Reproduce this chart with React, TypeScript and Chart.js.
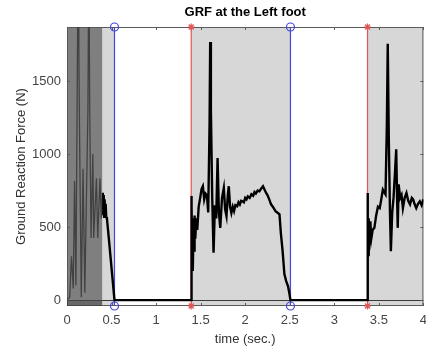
import React, { useEffect, useRef } from "react";
import { Chart, registerables } from "chart.js";

Chart.register(...registerables);

const timeTicks = [0, 0.5, 1, 1.5, 2, 2.5, 3, 3.5, 4];
const forceTicks = [0, 500, 1000, 1500];
const xMin = 0;
const xMax = 4;
const yMin = -40;
const yMax = 1870;

const darkStart = 0;
const darkEnd = 0.395;
const stanceStart = [0.395, 1.394, 3.373];
const stanceEnd = [0.533, 2.508, 4.0];
const toeOffTimes = [0.533, 2.508];
const heelStrikeTimes = [1.394, 3.373];

const traceTime = [
  0.0, 0.03, 0.05, 0.07, 0.085, 0.1, 0.125, 0.133, 0.14, 0.16, 0.18, 0.2, 0.235, 0.245, 0.255, 0.27,
  0.29, 0.3, 0.33, 0.345, 0.37, 0.385, 0.395, 0.402, 0.407, 0.412, 0.417, 0.422, 0.428, 0.434, 0.44, 0.448,
  0.47, 0.5, 0.533,
  1.394, 1.394, 1.398, 1.402, 1.406, 1.41, 1.414, 1.42, 1.426, 1.432, 1.44, 1.45, 1.462, 1.478, 1.495, 1.51,
  1.525, 1.54, 1.555, 1.57, 1.585, 1.6, 1.607, 1.615, 1.63, 1.645, 1.66, 1.675, 1.69, 1.705, 1.72, 1.74, 1.76,
  1.775, 1.79, 1.805, 1.816, 1.83, 1.845, 1.86, 1.875, 1.89, 1.91, 1.925, 1.94, 1.955, 1.97, 1.985, 2.0, 2.015,
  2.03, 2.05, 2.07, 2.09, 2.105, 2.12, 2.14, 2.16, 2.18, 2.2, 2.215, 2.235, 2.25, 2.27, 2.29, 2.31, 2.34, 2.36,
  2.385, 2.4, 2.42, 2.44, 2.46, 2.48, 2.495, 2.508,
  3.373, 3.373, 3.378, 3.382, 3.386, 3.392, 3.398, 3.405, 3.415, 3.43, 3.45, 3.47, 3.49, 3.51, 3.53, 3.545,
  3.56, 3.575, 3.59, 3.6, 3.612, 3.625, 3.635, 3.65, 3.665, 3.68, 3.695, 3.705, 3.712, 3.722, 3.74, 3.755,
  3.77, 3.79, 3.81, 3.83, 3.85, 3.87, 3.885, 3.9, 3.92, 3.94, 3.96, 3.98, 4.0,
];

const traceForce = [
  0, 20, 300, 80, 815, 100, 2400, 1690, 1200, 20, 900, 50, 1310, 2400, 1300, 425,
  1000, 425, 835, 425, 835, 560, 700, 735, 590, 720, 570, 690, 600, 660, 570, 560,
  420, 220, 0,
  0, 713, 450, 640, 300, 560, 200, 520, 340, 580, 420, 560, 480, 640, 700, 760,
  780, 690, 730, 720, 600, 1200, 1767, 1300, 700, 324, 650, 560, 973, 600, 495, 700, 768,
  620, 575, 720, 780, 640, 597, 640, 610, 650, 643, 670, 655, 680, 677, 670, 700, 690,
  710, 700, 725, 715, 740, 730, 750, 745, 765, 780, 760, 734, 720, 690, 656, 640, 609, 600,
  588, 460, 335, 178, 130, 96, 50, 0,
  0, 734, 400, 560, 300, 520, 380, 540, 420, 480, 495, 580, 640, 630, 700, 757,
  740, 725, 1200, 1756, 1100, 600, 335, 600, 700, 860, 1033, 700, 495, 793, 700, 720,
  630, 700, 734, 680, 656, 700, 690, 660, 630, 660, 677, 650, 690,
];

const FONT = "'Liberation Sans', Arial, Helvetica, sans-serif";

const phasePlugin = {
  id: "phases",
  beforeDatasetsDraw(chart: any) {
    const { ctx, chartArea, scales } = chart;
    const xs = scales.x;
    const ys = scales.y;
    ctx.save();
    ctx.fillStyle = "#d7d7d7";
    for (let i = 0; i < stanceStart.length; i++) {
      const a = xs.getPixelForValue(stanceStart[i]);
      const b = xs.getPixelForValue(stanceEnd[i]);
      ctx.fillRect(a, chartArea.top, b - a, chartArea.bottom - chartArea.top);
    }
    const y0 = Math.round(ys.getPixelForValue(0)) + 0.5;
    ctx.strokeStyle = "#3a3a3a";
    ctx.lineWidth = 1;
    ctx.beginPath();
    ctx.moveTo(chartArea.left, y0);
    ctx.lineTo(chartArea.right, y0);
    ctx.stroke();
    ctx.strokeStyle = "#5a5a5a";
    ctx.strokeRect(chartArea.left + 0.5, chartArea.top + 0.5, chartArea.right - chartArea.left - 1, chartArea.bottom - chartArea.top - 1);
    ctx.beginPath();
    for (const t of timeTicks) {
      const px = Math.round(xs.getPixelForValue(t)) + 0.5;
      ctx.moveTo(px, chartArea.bottom);
      ctx.lineTo(px, chartArea.bottom - 3);
      ctx.moveTo(px, chartArea.top);
      ctx.lineTo(px, chartArea.top + 3);
    }
    for (const v of forceTicks) {
      const py = Math.round(ys.getPixelForValue(v)) + 0.5;
      ctx.moveTo(chartArea.left, py);
      ctx.lineTo(chartArea.left + 3, py);
      ctx.moveTo(chartArea.right, py);
      ctx.lineTo(chartArea.right - 3, py);
    }
    ctx.stroke();
    ctx.restore();
  },
  afterDatasetsDraw(chart: any) {
    const { ctx, chartArea, scales } = chart;
    const xs = scales.x;
    const ys = scales.y;
    ctx.save();
    const a = xs.getPixelForValue(darkStart);
    const b = xs.getPixelForValue(darkEnd);
    ctx.fillStyle = "rgba(87,87,87,0.76)";
    ctx.fillRect(a, chartArea.top, b - a, chartArea.bottom - chartArea.top);
    const y0 = ys.getPixelForValue(0);
    ctx.fillStyle = "rgba(0,0,0,0.18)";
    ctx.fillRect(a, y0, b - a, chartArea.bottom - y0);
    ctx.restore();
  },
};

function eventDataset(t: number, color: string, style: string, radius: number) {
  return {
    data: [
      { x: t, y: yMin },
      { x: t, y: yMax },
    ],
    borderColor: color,
    borderWidth: 1.2,
    pointStyle: style,
    pointRadius: radius,
    pointBorderColor: color,
    pointBackgroundColor: "rgba(0,0,0,0)",
    pointBorderWidth: 1.2,
    clip: false,
  };
}

export default function App() {
  const ref = useRef<HTMLCanvasElement>(null);
  useEffect(() => {
    if (!ref.current) return;
    const trace = traceTime.map((t, i) => ({ x: t, y: traceForce[i] }));
    const datasets: any[] = [
      {
        data: trace,
        borderColor: "#000",
        borderWidth: 2.4,
        pointRadius: 0,
        segment: {
          borderWidth: (c: any) => (c.p0.parsed.x < darkEnd - 0.001 ? 1.3 : 2.4),
        },
      },
      ...toeOffTimes.map((t) => eventDataset(t, "#4545dd", "circle", 4)),
      ...heelStrikeTimes.map((t) => eventDataset(t, "#e05555", "star", 3.5)),
    ];
    const chart = new Chart(ref.current, {
      type: "line",
      data: { datasets },
      plugins: [phasePlugin],
      options: {
        animation: false,
        responsive: false,
        layout: { padding: { left: 0, right: 0, top: 0, bottom: 0 } },
        plugins: {
          legend: { display: false },
          tooltip: { enabled: false },
          title: {
            display: true,
            fullSize: false,
            text: "GRF at the Left foot",
            color: "#000",
            font: { family: FONT, size: 13, weight: "bold" },
            padding: { top: 5, bottom: 6.4 },
          },
        },
        scales: {
          x: {
            type: "linear",
            min: xMin,
            max: xMax,
            afterFit: (s: any) => {
              s.height = 40;
            },
            afterBuildTicks: (s: any) => {
              s.ticks = timeTicks.map((v) => ({ value: v }));
            },
            grid: { display: false, drawTicks: false },
            border: { display: false },
            ticks: {
              color: "#444",
              font: { family: FONT, size: 13 },
              padding: 7,
              maxRotation: 0,
              autoSkip: false,
              callback: (v: any) => String(v),
            },
            title: {
              display: true,
              text: "time (sec.)",
              color: "#333",
              font: { family: FONT, size: 13 },
              padding: { top: 0, bottom: -1 },
            },
          },
          y: {
            type: "linear",
            min: yMin,
            max: yMax,
            afterFit: (s: any) => {
              s.width = 67;
            },
            afterBuildTicks: (s: any) => {
              s.ticks = forceTicks.map((v) => ({ value: v }));
            },
            grid: { display: false, drawTicks: false },
            border: { display: false },
            ticks: {
              color: "#444",
              font: { family: FONT, size: 13 },
              padding: 6,
              autoSkip: false,
              callback: (v: any) => String(v),
            },
            title: {
              display: true,
              text: "Ground Reaction Force (N)",
              color: "#333",
              font: { family: FONT, size: 13 },
              padding: { top: 14, bottom: 0 },
            },
          },
        },
      } as any,
    });
    return () => chart.destroy();
  }, []);
  return (
    <div style={{ position: "fixed", left: 0, top: 0, width: 426, height: 346, overflow: "hidden", background: "#fff" }}>
      <canvas ref={ref} width={434} height={346} style={{ display: "block" }} />
    </div>
  );
}
